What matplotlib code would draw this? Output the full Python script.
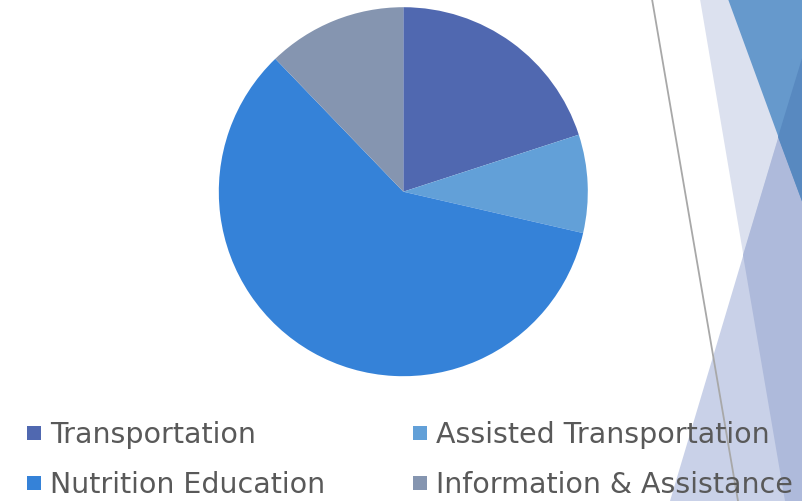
import matplotlib
matplotlib.use('Agg')
import matplotlib.pyplot as plt
from matplotlib.patches import Polygon, Rectangle
from matplotlib.lines import Line2D

W, H = 803, 502

# data
labels = ['Transportation', 'Assisted Transportation', 'Nutrition Education', 'Information & Assistance']
shares = [20.0, 8.6, 59.2, 12.2]
colors = ['#5068b0', '#62a0d8', '#3582d8', '#8595b0']

fig = plt.figure(figsize=(W / 100, H / 100), dpi=100)
fig.patch.set_facecolor('white')


def fx(x):
    return x / W


def fy(y):
    return 1 - y / H


def poly(pts, color):
    fig.add_artist(Polygon([(fx(x), fy(y)) for x, y in pts], closed=True,
                           transform=fig.transFigure, facecolor=color,
                           edgecolor='none', zorder=0))


# decorative background (slide theme)
poly([(700, 0), (803, 0), (803, 502), (785, 502)], '#dce1ef')
poly([(670, 502), (803, 56), (803, 502)], '#c9d1e8')
poly([(743, 256), (803, 56), (803, 502), (785, 502)], '#aebadb')
poly([(728, 0), (803, 0), (803, 205)], '#6699cc')
poly([(778, 138), (803, 56), (803, 205)], '#5889c0')
fig.add_artist(Line2D([fx(652), fx(738)], [fy(0), fy(502)], transform=fig.transFigure,
                      color='#a8a8a8', lw=1.3, zorder=1))

# pie
cx, cy, r = 403.3, 192.7, 184.5
ax = fig.add_axes([fx(cx - r), fy(cy + r), 2 * r / W, 2 * r / H])
ax.pie(shares, colors=colors, startangle=90, counterclock=False,
       wedgeprops=dict(linewidth=0))
ax.set_xlim(-1, 1)
ax.set_ylim(-1, 1)
ax.axis('off')

# legend
col_x = [27, 413]
row_y = [434, 484]
for i, (lab, c) in enumerate(zip(labels, colors)):
    x = col_x[i % 2]
    y = row_y[i // 2]
    fig.add_artist(Rectangle((fx(x), fy(y + 7)), 14 / W, 14 / H, transform=fig.transFigure,
                             facecolor=c, edgecolor='none', zorder=3))
    fig.text(fx(x + 23), fy(y + 1), lab, fontsize=20.5, color='#595959',
             ha='left', va='center', zorder=4)

fig.savefig('out.png', dpi=100)
